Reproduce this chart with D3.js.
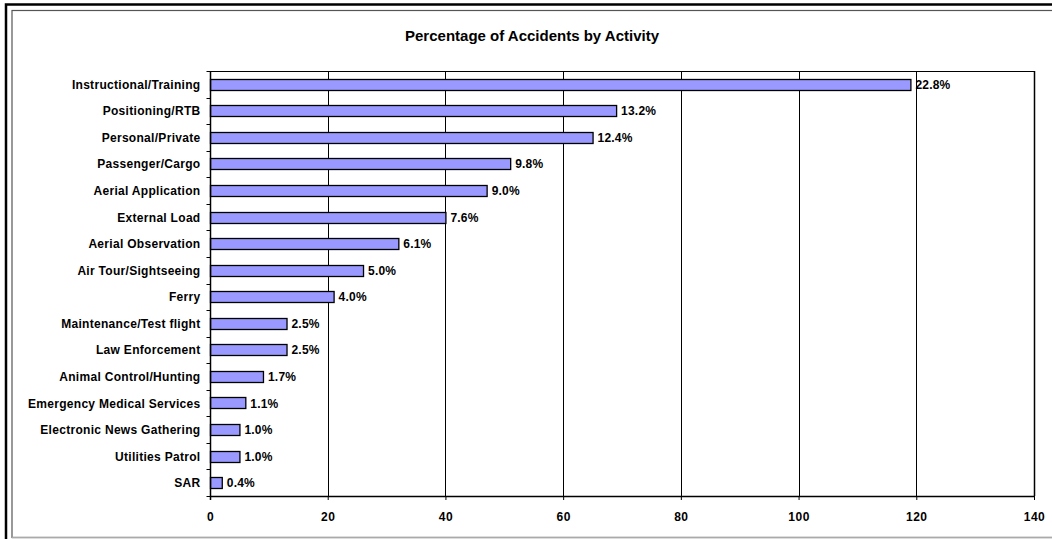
<!DOCTYPE html>
<html>
<head>
<meta charset="utf-8">
<script src="https://cdn.jsdelivr.net/npm/d3@7"></script>
<style>
  body { margin: 0; background: #fff; }
  text { font-family: "Liberation Sans", Arial, sans-serif; font-weight: bold; fill: #000; }
</style>
</head>
<body>
<script>
// accidents by activity (counts), labels as printed
let categories = [
  'Instructional/Training', 'Positioning/RTB', 'Personal/Private', 'Passenger/Cargo',
  'Aerial Application', 'External Load', 'Aerial Observation', 'Air Tour/Sightseeing',
  'Ferry', 'Maintenance/Test flight', 'Law Enforcement', 'Animal Control/Hunting',
  'Emergency Medical Services', 'Electronic News Gathering', 'Utilities Patrol', 'SAR'
]
let values = [119, 69, 65, 51, 47, 40, 32, 26, 21, 13, 13, 9, 6, 5, 5, 2]
let percentLabels = ['22.8%', '13.2%', '12.4%', '9.8%', '9.0%', '7.6%', '6.1%', '5.0%',
  '4.0%', '2.5%', '2.5%', '1.7%', '1.1%', '1.0%', '1.0%', '0.4%']
let xTicks = [0, 20, 40, 60, 80, 100, 120, 140]

let W = 1052, H = 539
let plot = { left: 210, right: 1034, top: 71, bottom: 496 }

let svg = d3.select('body').append('svg')
  .attr('width', W).attr('height', H)

// frame: heavy outer line, thin inner line
svg.append('rect').attr('x', 6).attr('y', 4.5).attr('width', W + 20).attr('height', H + 20)
  .attr('fill', 'none').attr('stroke', '#000').attr('stroke-width', 2.5)
svg.append('rect').attr('x', 12).attr('y', 10.5).attr('width', W + 20).attr('height', 527)
  .attr('fill', 'none').attr('stroke', '#555').attr('stroke-width', 1.2)
svg.append('line').attr('x1', 12).attr('x2', W).attr('y1', 537.5).attr('y2', 537.5)
  .attr('stroke', '#aaa').attr('stroke-width', 1.5)

svg.append('text').attr('x', 532).attr('y', 41)
  .attr('text-anchor', 'middle').style('font-size', '15px')
  .text('Percentage of Accidents by Activity')

let x = d3.scaleLinear().domain([0, 140]).range([plot.left, plot.right])
let y = d3.scaleBand().domain(categories).range([plot.top, plot.bottom])
  .paddingInner(0.58).paddingOuter(0.29)
let band = d3.scaleBand().domain(categories).range([plot.top, plot.bottom])

// gridlines
svg.append('g').selectAll('line').data(xTicks.slice(1)).enter().append('line')
  .attr('x1', d => Math.round(x(d)) + 0.5).attr('x2', d => Math.round(x(d)) + 0.5)
  .attr('y1', plot.top).attr('y2', plot.bottom)
  .attr('stroke', '#000').attr('stroke-width', 1)

svg.append('line').attr('x1', plot.left).attr('x2', plot.right)
  .attr('y1', plot.top + 0.5).attr('y2', plot.top + 0.5).attr('stroke', '#000')

// bars
svg.append('g').selectAll('rect').data(values).enter().append('rect')
  .attr('x', x(0) + 0.5)
  .attr('y', (d, i) => Math.round(y(categories[i])) + 0.5)
  .attr('width', d => x(d) - x(0))
  .attr('height', Math.round(y.bandwidth()))
  .attr('fill', '#9999ff').attr('stroke', '#000').attr('stroke-width', 1.3)

svg.append('g').selectAll('text').data(values).enter().append('text')
  .attr('x', d => x(d) + 5)
  .attr('y', (d, i) => y(categories[i]) + y.bandwidth() / 2 + 4.5)
  .style('font-size', '12px').style('letter-spacing', '0.2px')
  .text((d, i) => percentLabels[i])

// y axis
let yAxis = svg.append('g').attr('transform', `translate(${plot.left + 0.5},0)`)
yAxis.append('line').attr('y1', plot.top).attr('y2', plot.bottom + 4).attr('stroke', '#000').attr('stroke-width', 1.5)
yAxis.selectAll('.tk').data(categories.concat(['end'])).enter().append('line')
  .attr('x1', -4).attr('x2', 0)
  .attr('y1', (d, i) => Math.round(plot.top + i * band.bandwidth()) + 0.5)
  .attr('y2', (d, i) => Math.round(plot.top + i * band.bandwidth()) + 0.5)
  .attr('stroke', '#000')
yAxis.selectAll('text').data(categories).enter().append('text')
  .attr('x', -10)
  .attr('y', d => band(d) + band.bandwidth() / 2 + 4.5)
  .attr('text-anchor', 'end').style('font-size', '12px').style('letter-spacing', '0.3px')
  .text(d => d)

// x axis
let xAxis = svg.append('g').attr('transform', `translate(0,${plot.bottom})`)
  .call(d3.axisBottom(x).tickValues(xTicks).tickSize(4).tickSizeOuter(0).tickPadding(12))
xAxis.select('.domain').attr('stroke-width', 1.5)
xAxis.selectAll('text').style('font-size', '12px').style('letter-spacing', '0.5px')
  .style('font-family', '"Liberation Sans", Arial, sans-serif')
xAxis.selectAll('.tick line').attr('stroke-width', 1)

svg.append('line').attr('x1', plot.right + 0.5).attr('x2', plot.right + 0.5)
  .attr('y1', plot.top).attr('y2', plot.bottom).attr('stroke', '#000').attr('stroke-width', 1.5)
</script>
</body>
</html>
